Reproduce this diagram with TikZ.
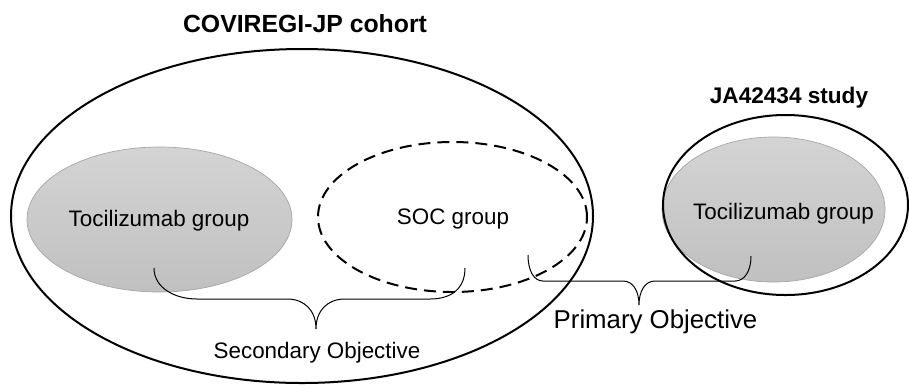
\documentclass[tikz,border=0pt]{standalone}
\usepackage{fontspec}
\setmainfont{Liberation Sans}
\usetikzlibrary{shapes.geometric}
\definecolor{grptop}{HTML}{D4D4D4}
\definecolor{grpbot}{HTML}{C0C0C0}
\definecolor{grpline}{HTML}{A6A6A6}
\begin{document}
\begin{tikzpicture}[x=1pt,y=-1pt,
  outerell/.style={ellipse, draw=black, line width=2pt, inner sep=0pt},
  groupell/.style={ellipse, top color=grptop, bottom color=grpbot, draw=grpline, line width=0.7pt, inner sep=0pt},
  socell/.style={ellipse, draw=black, line width=2pt, dash pattern=on 12pt off 7pt, inner sep=0pt},
  titletxt/.style={anchor=base, inner sep=0pt, font=\fontsize{24.8}{29}\selectfont\bfseries},
  subtitletxt/.style={anchor=base, inner sep=0pt, font=\fontsize{22.6}{27}\selectfont\bfseries},
  lbltxt/.style={anchor=base, inner sep=0pt, font=\fontsize{22.4}{27}\selectfont},
  bigtxt/.style={anchor=base, inner sep=0pt, font=\fontsize{25.8}{30}\selectfont},
  bracepath/.style={draw=black, line width=1pt}]
\useasboundingbox (0,0) rectangle (909,384);

% cohort ellipses
\node[outerell, minimum width=582pt, minimum height=334pt] (cohort) at (302,216) {};
\node[groupell, minimum width=265pt, minimum height=145pt] (tociL) at (159.5,219.5) {};
\node[socell, minimum width=269pt, minimum height=150pt] (soc) at (452.5,217) {};

% JA42434 study ellipses
\node[groupell, minimum width=223pt, minimum height=145pt] (tociR) at (773.5,209.5) {};
\node[outerell, minimum width=245pt, minimum height=180pt] (study) at (785.5,205) {};

% brace end points
\coordinate (secL) at (154,268);
\coordinate (secR) at (465,268);
\coordinate (secT) at (316,329);
\coordinate (priL) at (528,255);
\coordinate (priR) at (751,256);
\coordinate (priT) at (639,305);

% secondary objective brace
\draw[bracepath] (secL) .. controls +(0,20) and +(-22,0) .. (197,299) -- (287,299)
  .. controls +(18,0) and +(0,-18) .. (secT)
  .. controls +(0,-18) and +(-18,0) .. (345,299) -- (430,299)
  .. controls +(22,0) and +(0,20) .. (secR);

% primary objective brace
\draw[bracepath] (priL) .. controls +(0,16) and +(-9,0) .. (543,281) -- (623,281)
  .. controls +(10,0) and +(0,-14) .. (priT)
  .. controls +(0,-14) and +(-10,0) .. (655,281) -- (735,281)
  .. controls +(9,0) and +(0,16) .. (priR);

% texts
\node[titletxt] (cohortT) at (305,32) {COVIREGI-JP cohort};
\node[subtitletxt] (studyT) at (789,103) {JA42434 study};
\node[lbltxt] (tociLT) at (159,226) {Tocilizumab group};
\node[lbltxt] (socT) at (453,224) {SOC group};
\node[lbltxt] (tociRT) at (783.5,219) {Tocilizumab group};
\node[lbltxt] (secT2) at (317,358) {Secondary Objective};
\node[bigtxt] (priT2) at (655.5,328) {Primary Objective};
\end{tikzpicture}
\end{document}
